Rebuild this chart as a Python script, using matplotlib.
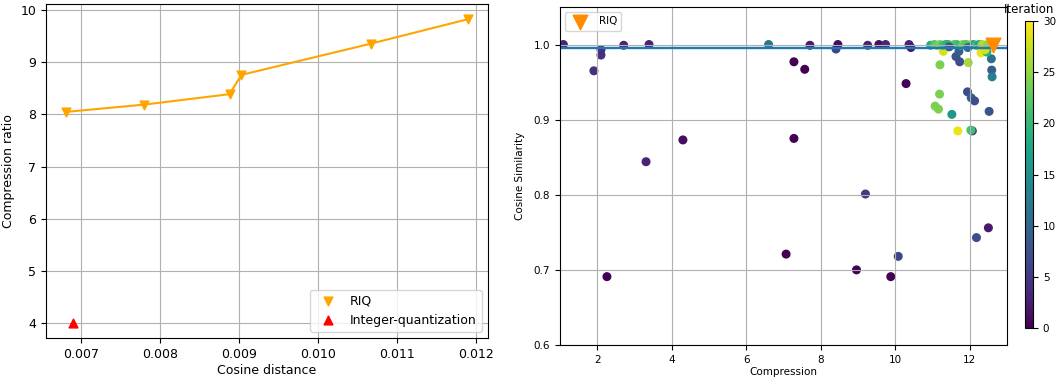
import matplotlib
matplotlib.use('Agg')
import matplotlib.pyplot as plt
import numpy as np

# left panel: compression ratio vs cosine distance
riq_dist = [0.00681, 0.00780, 0.00888, 0.00903, 0.01067, 0.01190]
riq_ratio = [8.05, 8.19, 8.39, 8.76, 9.36, 9.83]
int_dist = [0.00690]
int_ratio = [4.0]

# right panel: search iterations (compression, cosine similarity, iteration)
comp = [1.09, 1.91, 2.10, 2.10, 2.26, 2.71, 3.31, 3.39, 4.30, 6.60,
        7.07, 7.28, 7.28, 7.57, 7.71, 8.41, 8.46, 8.96, 9.20, 9.26,
        9.56, 9.74, 9.88, 10.08, 10.29, 10.37, 10.42,
        11.20, 11.29, 11.19, 11.07, 11.16, 11.52, 11.68, 11.63, 11.73,
        11.71, 11.96, 11.94, 12.04, 12.13, 12.07, 12.03, 12.18, 12.50,
        12.52, 12.58, 12.59, 12.60, 12.30, 12.46, 12.41, 12.00,
        10.95, 11.05, 11.12, 11.20, 11.28, 11.35, 11.42, 11.50, 11.58,
        11.65, 11.75, 11.82, 11.90, 12.10, 12.18, 12.25, 12.33, 12.40,
        12.48, 11.45, 11.95]
cos_sim = [1.000, 0.965, 0.993, 0.986, 0.691, 0.999, 0.844, 1.000, 0.873, 1.000,
           0.721, 0.977, 0.875, 0.967, 0.999, 0.994, 1.000, 0.700, 0.801, 0.999,
           1.000, 1.000, 0.691, 0.718, 0.948, 1.000, 0.996,
           0.973, 0.991, 0.934, 0.918, 0.914, 0.907, 0.885, 0.984, 0.977,
           0.991, 0.976, 0.937, 0.929, 0.925, 0.885, 0.886, 0.743, 0.756,
           0.911, 0.981, 0.966, 0.957, 0.989, 0.990, 0.993, 1.000,
           0.999, 1.000, 0.999, 1.000, 0.999, 1.000, 1.000, 0.999, 1.000,
           1.000, 0.999, 1.000, 1.000, 1.000, 0.999, 1.000, 1.000, 0.999,
           1.000, 0.997, 0.996]
iteration = [3, 4, 4, 4, 0, 3, 3, 3, 1, 12,
             0, 0, 0, 0, 2, 6, 1, 0, 5, 3,
             1, 3, 0, 6, 0, 3, 2,
             24, 28, 24, 24, 24, 16, 29, 8, 7,
             9, 26, 7, 9, 7, 6, 21, 7, 2,
             8, 11, 9, 13, 29, 19, 28, 29,
             18, 22, 23, 24, 21, 20, 19, 22, 23,
             21, 20, 24, 22, 18, 21, 17, 26, 27,
             25, 8, 10]
riq_point = (12.62, 1.0)
threshold = 0.995

fig = plt.figure(figsize=(10.6, 3.77), dpi=100)

ax1 = fig.add_axes([0.0434, 0.1034, 0.417, 0.886])
ax1.plot(riq_dist, riq_ratio, color='orange')
ax1.scatter(riq_dist, riq_ratio, color='orange', marker='v', s=40, label='RIQ', zorder=3)
ax1.scatter(int_dist, int_ratio, color='red', marker='^', s=40,
            label='Integer-quantization', zorder=3)
ax1.set_xlabel('Cosine distance', fontsize=9, labelpad=2)
ax1.set_ylabel('Compression ratio', fontsize=9)
ax1.set_xticks([0.007, 0.008, 0.009, 0.010, 0.011, 0.012])
ax1.tick_params(labelsize=9)
ax1.grid(True)
ax1.legend(loc='lower right', fontsize=9)

ax2 = fig.add_axes([0.5283, 0.0849, 0.4217, 0.8966])
sc = ax2.scatter(comp, cos_sim, c=iteration, cmap='viridis', vmin=0, vmax=30, s=30)
ax2.scatter([riq_point[0]], [riq_point[1]], color='darkorange', marker='v', s=110,
            label='RIQ', zorder=3)
ax2.axhline(threshold, color='C0', linewidth=1.7)
ax2.set_xlim(1, 13)
ax2.set_ylim(0.6, 1.05)
ax2.set_xticks([2, 4, 6, 8, 10, 12])
ax2.tick_params(labelsize=7.5)
ax2.set_xlabel('Compression', fontsize=7.5, labelpad=2)
ax2.set_ylabel('Cosine Similarity', fontsize=7.5, labelpad=6)
ax2.grid(True)
ax2.legend(loc='upper left', fontsize=7.5)

cax = fig.add_axes([0.967, 0.130, 0.0075, 0.814])
cb = fig.colorbar(sc, cax=cax)
cb.set_ticks([0, 5, 10, 15, 20, 25, 30])
cb.ax.tick_params(labelsize=7.5)
cb.ax.set_title('Iteration', fontsize=8.5, pad=6)

fig.savefig('out.png', dpi=100)
